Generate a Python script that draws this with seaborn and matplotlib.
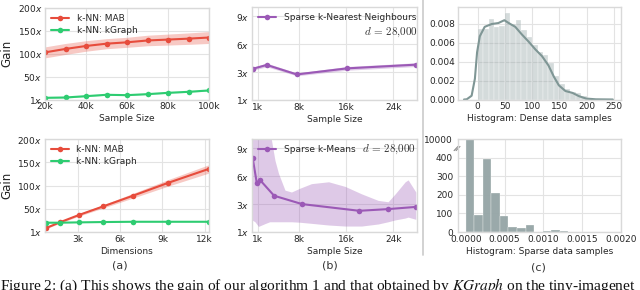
import numpy as np
import matplotlib
matplotlib.use("Agg")
import matplotlib.pyplot as plt
import seaborn as sns

# (a) top: gain vs sample size
sizes = [20000, 30000, 40000, 50000, 60000, 70000, 80000, 90000, 100000]
mab_size = [103, 110.5, 117, 122, 125, 129, 131, 133, 135.5]
mab_size_err = [12, 12, 11.5, 11, 11, 11.5, 12, 12.5, 13]
kgraph_size = [3.7, 4.4, 7.3, 10.3, 9.5, 11.7, 14.6, 16.8, 19.8]
kgraph_size_err = [1.2, 1.2, 1.2, 1.2, 1.2, 1.2, 1.2, 1.2, 1.2]

# (a) bottom: gain vs dimensions
dims = [768, 1728, 3072, 4800, 6912, 9408, 12288]
mab_dim = [8.6, 20.7, 36.4, 55, 78, 105.7, 135.7]
mab_dim_err = [1.5, 2, 2.5, 3.5, 5, 7, 9]
kgraph_dim = [20, 20, 20.7, 21.4, 22, 22, 22]

gain_ticks = [0, 50, 100, 150, 200]
gain_labels = ["1", "50", "100", "150", "200"]

# (b) top: sparse k-NN
knn_x = [200, 2500, 7600, 16100, 27800]
knn_gain = [3.37, 3.77, 2.75, 3.4, 3.8]
knn_err = [0.15, 0.2, 0.15, 0.2, 0.2]

# (b) bottom: sparse k-means
km_x = [100, 820, 1350, 3750, 8500, 18200, 23050, 27850]
km_gain = [8.0, 5.25, 5.6, 3.9, 3.0, 2.28, 2.46, 2.7]
km_band_x = [0, 500, 1100, 2200, 3000, 3900, 4500, 5600, 6700, 8100, 10100, 13000,
             15800, 18600, 21400, 23100, 24300, 26000, 26500, 27800]
km_band_lo = [1.3, 1.1, 0.6, 0.9, 1.1, 1.1, 1.1, 1.1, 1.1, 1.05, 0.93, 0.75,
              0.64, 0.64, 0.86, 1.1, 1.3, 1.5, 1.6, 1.36]
km_band_hi = [12, 12, 12, 11.5, 11, 7.7, 6.3, 4.5, 4.3, 4.7, 5.2, 5.4,
              4.9, 4.1, 3.4, 3.25, 4.1, 5.4, 5.6, 4.3]

b_ticks = [0, 3, 6, 9]
b_labels = ["1", "3", "6", "9"]
b_xticks = [1000, 8000, 16000, 24000]
b_xlabels = ["1k", "8k", "16k", "24k"]

# (c) top: dense histogram (density per bin of width 10) + kde
dense_edges = list(range(0, 260, 10))
dense_density = [0.00744, 0.00744, 0.00856, 0.00772, 0.0078, 0.0092, 0.0080, 0.0084,
                 0.0074, 0.0066, 0.0058, 0.0050, 0.0047, 0.0039, 0.0025, 0.0016,
                 0.0011, 0.0008, 0.0007, 0.0004, 0.0002, 0.0001, 0.00006, 0.00004, 0.00002]
kde_x = [-25, -20, -11, -5, -1, 4, 13, 26, 38, 49, 57, 69, 81, 94, 106, 118, 130,
         140, 149, 161, 174, 186, 199, 217, 248]
kde_y = [0, 0.00002, 0.0004, 0.0022, 0.0050, 0.0067, 0.0077, 0.0080, 0.0081, 0.0084,
         0.0081, 0.0077, 0.0069, 0.0061, 0.0053, 0.0046, 0.0036, 0.0024, 0.0015,
         0.0009, 0.0007, 0.00035, 0.0001, 0.00002, 0]

# (c) bottom: sparse histogram counts
sparse_width = 0.00011
sparse_counts = [10000, 90, 395, 210, 85, 25, 20, 40, 0, 5, 12, 5, 0, 0, 0, 2]

RED, GREEN, PURPLE, GREY = "#e74c3c", "#2ecc71", "#9b59b6", "#95a5a6"

sns.set_style("whitegrid", {"axes.edgecolor": ".85", "grid.color": ".89"})
plt.rcParams["font.family"] = ["DejaVu Sans"]
plt.rcParams["axes.linewidth"] = 1.0
FS = 6.5

fig = plt.figure(figsize=(6.4, 2.9), dpi=100)
W, H = 640, 290


def add_ax(x0, x1, y0, y1):
    return fig.add_axes([x0 / W, 1 - y1 / H, (x1 - x0) / W, (y1 - y0) / H])


ax1 = add_ax(45, 209, 8, 99.5)
ax2 = add_ax(252, 417, 7, 100)
ax3 = add_ax(458, 621, 7, 99.5)
ax4 = add_ax(44.5, 209, 139, 232)
ax5 = add_ax(252, 417, 139, 232)
ax6 = add_ax(458, 621, 139, 232)

line_kw = dict(marker="o", markersize=4, markeredgewidth=0, linewidth=1.5)

# ---- (a) top
ax = ax1
ax.fill_between(sizes, np.array(mab_size) - mab_size_err, np.array(mab_size) + mab_size_err,
                color=RED, alpha=0.3, linewidth=0)
ax.fill_between(sizes, np.array(kgraph_size) - kgraph_size_err,
                np.array(kgraph_size) + kgraph_size_err, color=GREEN, alpha=0.3, linewidth=0)
sns.lineplot(x=sizes, y=mab_size, color=RED, label="k-NN: MAB", ax=ax, **line_kw)
sns.lineplot(x=sizes, y=kgraph_size, color=GREEN, label="k-NN: kGraph", ax=ax, **line_kw)
ax.set_xlim(20000, 100000)
ax.set_xticks([20000, 40000, 60000, 80000, 100000])
ax.set_xticklabels(["20k", "40k", "60k", "80k", "100k"])
ax.set_xlabel("Sample Size", fontsize=FS, labelpad=2)

# ---- (a) bottom
ax = ax4
ax.fill_between(dims, np.array(mab_dim) - mab_dim_err, np.array(mab_dim) + mab_dim_err,
                color=RED, alpha=0.3, linewidth=0)
sns.lineplot(x=dims, y=mab_dim, color=RED, label="k-NN: MAB", ax=ax, **line_kw)
sns.lineplot(x=dims, y=kgraph_dim, color=GREEN, label="k-NN: kGraph", ax=ax, **line_kw)
ax.set_xlim(650, 12300)
ax.set_xticks([3000, 6000, 9000, 12000])
ax.set_xticklabels(["3k", "6k", "9k", "12k"])
ax.set_xlabel("Dimensions", fontsize=FS, labelpad=2)

for ax in (ax1, ax4):
    ax.set_ylim(0, 200)
    ax.set_yticks(gain_ticks)
    ax.set_yticklabels([l + "$x$" for l in gain_labels])
    ax.set_ylabel("Gain", fontsize=8.5, labelpad=3)
    ax.legend(loc="upper left", frameon=False, fontsize=FS, handlelength=2,
              borderaxespad=0.3, labelspacing=0.3)

# ---- (b) top
ax = ax2
ax.fill_between(knn_x, np.array(knn_gain) - knn_err, np.array(knn_gain) + knn_err,
                color=PURPLE, alpha=0.3, linewidth=0)
sns.lineplot(x=knn_x, y=knn_gain, color=PURPLE, label="Sparse k-Nearest Neighbours",
             ax=ax, **line_kw)
ax.text(1.005, 0.73, r"$d\,=\,28{,}000$", transform=ax.transAxes, ha="right", va="center",
        fontsize=8, math_fontfamily="cm", color="#333333")

# ---- (b) bottom
ax = ax5
ax.fill_between(km_band_x, km_band_lo, km_band_hi, color=PURPLE, alpha=0.32, linewidth=0)
sns.lineplot(x=km_x, y=km_gain, color=PURPLE, label="Sparse k-Means", ax=ax, **line_kw)
ax.text(0.995, 0.89, r"$d\,=\,28{,}000$", transform=ax.transAxes, ha="right", va="center",
        fontsize=8, math_fontfamily="cm", color="#333333")

for ax in (ax2, ax5):
    ax.set_xlim(0, 28000)
    ax.set_ylim(0, 10)
    ax.set_xticks(b_xticks)
    ax.set_xticklabels(b_xlabels)
    ax.set_yticks(b_ticks)
    ax.set_yticklabels([l + "$x$" for l in b_labels])
    ax.set_xlabel("Sample Size", fontsize=FS, labelpad=2)
    ax.legend(loc="upper left", frameon=False, fontsize=FS, handlelength=2,
              borderaxespad=0.3)

# ---- (c) top
ax = ax3
centers = [e + 5 for e in dense_edges[:-1]]
sns.histplot(x=centers, weights=dense_density, bins=dense_edges, color=GREY, alpha=0.4,
             edgecolor="white", linewidth=0.2, ax=ax)
sns.lineplot(x=kde_x, y=kde_y, color="#7f9695", linewidth=1.5, ax=ax)
ax.set_xlim(-36, 263)
ax.set_ylim(0, 0.0098)
ax.set_xticks([0, 50, 100, 150, 200, 250])
ax.set_yticks([0, 0.002, 0.004, 0.006, 0.008])
ax.set_yticklabels(["0.000", "0.002", "0.004", "0.006", "0.008"])
ax.set_ylabel("")
ax.set_xlabel("Histogram: Dense data samples", fontsize=FS, labelpad=2)

# ---- (c) bottom
ax = ax6
sp_edges = [i * sparse_width for i in range(len(sparse_counts) + 1)]
sp_centers = [e + sparse_width / 2 for e in sp_edges[:-1]]
sns.histplot(x=sp_centers, weights=sparse_counts, bins=sp_edges, color=GREY, alpha=0.95,
             edgecolor="white", linewidth=0.2, ax=ax)
ax.set_xlim(-0.0001, 0.002)
ax.set_ylim(0, 500)
ax.set_yticks([0, 100, 200, 300, 400, 500])
ax.set_yticklabels(["0", "100", "200", "300", "400", "10000"])
ax.set_xticks([0, 0.0005, 0.001, 0.0015, 0.002])
ax.set_xticklabels(["0.0000", "0.0005", "0.0010", "0.0015", "0.0020"])
ax.set_ylabel("")
ax.set_xlabel("Histogram: Sparse data samples", fontsize=FS, labelpad=2)
for dx in (-0.012, 0.0):
    ax.plot([-0.012 + dx, 0.012 + dx], [0.875, 0.92], transform=ax.transAxes,
            color="#888888", linewidth=0.8, clip_on=False)

for ax in (ax1, ax2, ax3, ax4, ax5, ax6):
    ax.tick_params(labelsize=FS, pad=2, length=0)
    for s in ax.spines.values():
        s.set_color("#d9d9d9")
ax6.tick_params(axis="y", pad=3.5)

# panel letters and separator
fig.text(120 / W, 1 - 266 / H, "(a)", ha="center", va="center", fontsize=8, color="#333333")
fig.text(330 / W, 1 - 266 / H, "(b)", ha="center", va="center", fontsize=8, color="#333333")
fig.text(538 / W, 1 - 267 / H, "(c)", ha="center", va="center", fontsize=8, color="#333333")
fig.add_artist(plt.Line2D([423 / W, 423 / W], [1 - 255 / H, 1], color="#cfcfcf", linewidth=1.3))

fig.text(0.0, 1 - 289.5 / H,
         r"Figure 2: (a) This shows the gain of our algorithm 1 and that obtained by $\mathit{KGraph}$ on the tiny-imagenet",
         ha="left", va="baseline", fontsize=11.1, family="Liberation Serif",
         math_fontfamily="stix", color="#111111")

fig.savefig("out.png", dpi=100)
